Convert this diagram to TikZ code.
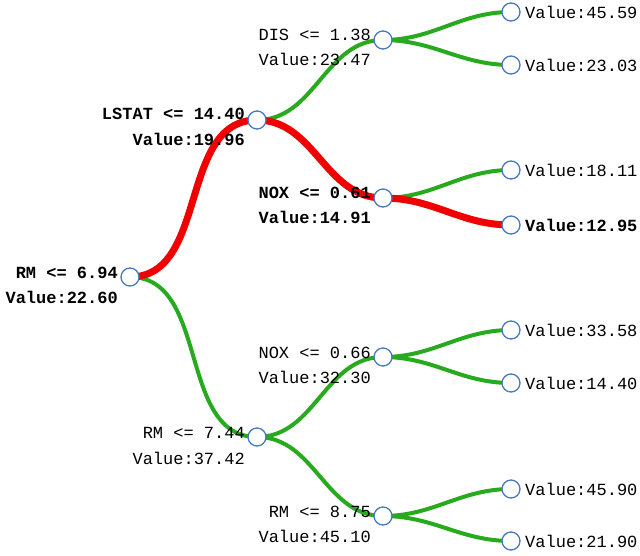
\documentclass[tikz,border=0pt]{standalone}
\usepackage{fontspec}
\setmonofont{Liberation Mono}
\begin{document}
\begin{tikzpicture}[x=1pt,y=-1pt,
  nd/.style={circle,draw={rgb,255:red,70;green,120;blue,190},fill=white,line width=1.3pt,minimum size=18pt,inner sep=0pt},
  lb/.style={font=\ttfamily\fontsize{17}{20}\selectfont,inner sep=0pt,anchor=base east},
  lf/.style={font=\ttfamily\fontsize{17}{20}\selectfont,inner sep=0pt,anchor=base west},
  bf/.style={font=\ttfamily\bfseries\fontsize{17}{20}\selectfont},
  g/.style={draw={rgb,255:red,40;green,170;blue,30},line width=4pt,out=0,in=180},
  r/.style={draw={rgb,255:red,240;green,0;blue,0},line width=7pt,out=0,in=180}]
\useasboundingbox (0,0) rectangle (640,555);
\coordinate (n0) at (130,277);
\coordinate (n1) at (257,120);
\coordinate (n2) at (257,437);
\coordinate (n3) at (383,40);
\coordinate (n4) at (383,198);
\coordinate (n5) at (383,357);
\coordinate (n6) at (383,516);
\coordinate (l1) at (511,12);
\coordinate (l2) at (511,65);
\coordinate (l3) at (511,170);
\coordinate (l4) at (511,225);
\coordinate (l5) at (511,330);
\coordinate (l6) at (511,383);
\coordinate (l7) at (511,489);
\coordinate (l8) at (511,541);
\draw[g] (n0) to (n2);
\draw[g] (n1) to (n3);
\draw[g] (n2) to (n5);
\draw[g] (n2) to (n6);
\draw[g] (n3) to (l1);
\draw[g] (n3) to (l2);
\draw[g] (n4) to (l3);
\draw[g] (n5) to (l5);
\draw[g] (n5) to (l6);
\draw[g] (n6) to (l7);
\draw[g] (n6) to (l8);
\draw[r] (n0) to (n1);
\draw[r] (n1) to (n4);
\draw[r] (n4) to (l4);
\foreach \n in {n0,n1,n2,n3,n4,n5,n6,l1,l2,l3,l4,l5,l6,l7,l8} \node[nd] (c\n) at (\n) {};
\node[lb,bf] (t0a) at (118,278) {RM <= 6.94};
\node[lb,bf] (t0b) at (118,303) {Value:22.60};
\node[lb,bf] (t1a) at (245,119) {LSTAT <= 14.40};
\node[lb,bf] (t1b) at (245,145) {Value:19.96};
\node[lb] (t2a) at (245,438) {RM <= 7.44};
\node[lb] (t2b) at (245,464) {Value:37.42};
\node[lb] (t3a) at (371,40) {DIS <= 1.38};
\node[lb] (t3b) at (371,65) {Value:23.47};
\node[lb,bf] (t4a) at (371,198) {NOX <= 0.61};
\node[lb,bf] (t4b) at (371,223) {Value:14.91};
\node[lb] (t5a) at (371,358) {NOX <= 0.66};
\node[lb] (t5b) at (371,383) {Value:32.30};
\node[lb] (t6a) at (371,517) {RM <= 8.75};
\node[lb] (t6b) at (371,542) {Value:45.10};
\node[lf] (u1) at (525,18) {Value:45.59};
\node[lf] (u2) at (525,71) {Value:23.03};
\node[lf] (u3) at (525,176) {Value:18.11};
\node[lf,bf] (u4) at (525,231) {Value:12.95};
\node[lf] (u5) at (525,336) {Value:33.58};
\node[lf] (u6) at (525,389) {Value:14.40};
\node[lf] (u7) at (525,495) {Value:45.90};
\node[lf] (u8) at (525,547) {Value:21.90};
\end{tikzpicture}
\end{document}
